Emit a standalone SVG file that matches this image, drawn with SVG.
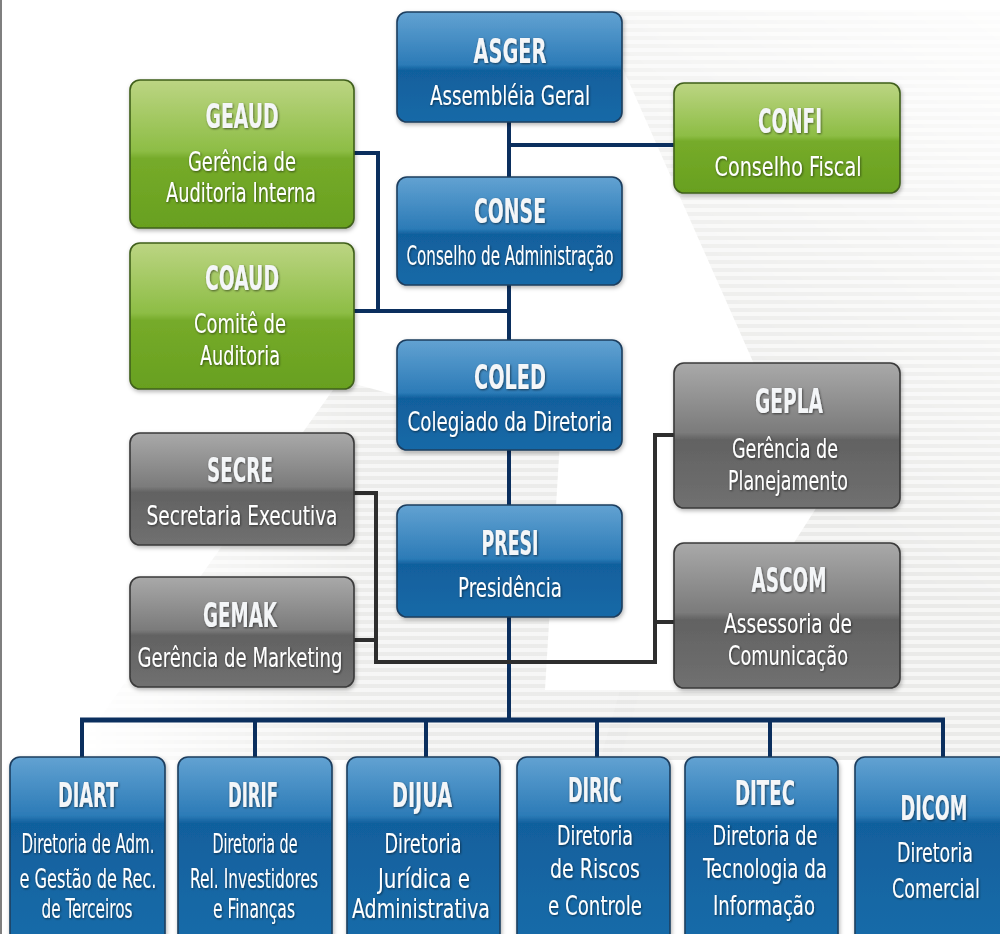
<svg xmlns="http://www.w3.org/2000/svg" width="1000" height="934" viewBox="0 0 1000 934">
<defs>
<pattern id="stripes" patternUnits="userSpaceOnUse" width="8" height="8">
<rect width="8" height="8" fill="#f5f5f4"/>
<rect y="4" width="8" height="4" fill="#e8e8e6"/>
</pattern>
<linearGradient id="fadeR" gradientUnits="userSpaceOnUse" x1="1000" y1="0" x2="700" y2="420">
<stop offset="0" stop-color="#fff" stop-opacity="0.1"/>
<stop offset="1" stop-color="#fff" stop-opacity="0.9"/>
</linearGradient>
<linearGradient id="fadeL" gradientUnits="userSpaceOnUse" x1="80" y1="0" x2="360" y2="0">
<stop offset="0" stop-color="#fff" stop-opacity="0"/>
<stop offset="1" stop-color="#fff" stop-opacity="0.85"/>
</linearGradient>
<mask id="mR"><rect x="580" y="0" width="420" height="934" fill="url(#fadeR)"/></mask>
<mask id="mL"><rect x="0" y="0" width="640" height="934" fill="url(#fadeL)"/></mask>
<linearGradient id="gBlue" x1="0" y1="0" x2="0" y2="1">
<stop offset="0" stop-color="#62a2d2"/>
<stop offset="0.48" stop-color="#2c7bb7"/>
<stop offset="0.53" stop-color="#11609d"/>
<stop offset="1" stop-color="#1769a7"/>
</linearGradient>
<linearGradient id="gBlueTall" x1="0" y1="0" x2="0" y2="1">
<stop offset="0" stop-color="#62a2d2"/>
<stop offset="0.3" stop-color="#2c7bb7"/>
<stop offset="0.34" stop-color="#11609d"/>
<stop offset="1" stop-color="#1a6caa"/>
</linearGradient>
<linearGradient id="gGreen" x1="0" y1="0" x2="0" y2="1">
<stop offset="0" stop-color="#bcd583"/>
<stop offset="0.48" stop-color="#8dbd45"/>
<stop offset="0.53" stop-color="#76ab2a"/>
<stop offset="1" stop-color="#68a01f"/>
</linearGradient>
<linearGradient id="gGrey" x1="0" y1="0" x2="0" y2="1">
<stop offset="0" stop-color="#a9a9a9"/>
<stop offset="0.48" stop-color="#7b7b7b"/>
<stop offset="0.53" stop-color="#626262"/>
<stop offset="1" stop-color="#707070"/>
</linearGradient>
<filter id="sh" x="-10%" y="-10%" width="120%" height="130%">
<feDropShadow dx="1" dy="2" stdDeviation="2" flood-color="#000" flood-opacity="0.3"/>
</filter>
<filter id="ts" x="-10%" y="-20%" width="120%" height="150%">
<feDropShadow dx="0.8" dy="1" stdDeviation="0.8" flood-color="#000" flood-opacity="0.55"/>
</filter>
<style>
.box{stroke-width:1.6}
.blue{fill:url(#gBlue);stroke:#1c3e5e}
.blueT{fill:url(#gBlueTall);stroke:#1c3e5e}
.green{fill:url(#gGreen);stroke:#3f5f1a}
.grey{fill:url(#gGrey);stroke:#3a3a3a}
text{fill:#fff;text-anchor:middle;font-family:"DejaVu Sans Condensed","DejaVu Sans","Liberation Sans",sans-serif}
.t{font-size:33px;font-weight:bold;fill:#f4f6f8}
.s{font-size:26px;font-weight:normal}
.cn{fill:none;stroke:#0b2f5e;stroke-width:4}
.cb{fill:none;stroke:#0b2f5e;stroke-width:5}
.cg{fill:none;stroke:#2e2e2e;stroke-width:4}
</style>
</defs>

<rect width="1000" height="934" fill="#fff"/>
<g id="background">
<polygon points="597,10 1000,10 1000,760 600,760 620,690 700,690 850,455 770,400" fill="url(#stripes)" mask="url(#mR)"/>
<polygon points="340,380 560,440 545,690 640,690 620,760 70,760" fill="url(#stripes)" mask="url(#mL)"/>
<line x1="1" y1="0" x2="1" y2="934" stroke="#555" stroke-width="1.5"/>
</g>

<g id="connectors">
<path class="cn" d="M509 122 V720"/>
<path class="cn" d="M509 145 H674"/>
<path class="cn" d="M354 153 H378 V311"/>
<path class="cn" d="M354 311 H509"/>
<path class="cg" d="M354 493 H376 V662 H655 V435 H674"/>
<path class="cg" d="M354 640 H376"/>
<path class="cg" d="M655 622 H674"/>
<path class="cb" d="M80 720 H945"/>
<path class="cn" d="M82 720 V757 M255 720 V757 M426 720 V757 M597 720 V757 M770 720 V757 M943 720 V757"/>
</g>

<g id="ASGER">
<rect class="box blue" x="397" y="12" width="225" height="110" rx="10" filter="url(#sh)"/>
<g filter="url(#ts)"><text class="t" x="510" y="63" textLength="73" lengthAdjust="spacingAndGlyphs">ASGER</text>
<text class="s" x="510" y="105" textLength="160" lengthAdjust="spacingAndGlyphs">Assembléia Geral</text></g>
</g>
<g id="CONSE">
<rect class="box blue" x="397" y="177" width="225" height="108" rx="10" filter="url(#sh)"/>
<g filter="url(#ts)"><text class="t" x="510" y="223" textLength="72" lengthAdjust="spacingAndGlyphs">CONSE</text>
<text class="s" x="510" y="265" textLength="207" lengthAdjust="spacingAndGlyphs">Conselho de Administração</text></g>
</g>
<g id="COLED">
<rect class="box blue" x="397" y="340" width="225" height="110" rx="10" filter="url(#sh)"/>
<g filter="url(#ts)"><text class="t" x="510" y="389" textLength="72" lengthAdjust="spacingAndGlyphs">COLED</text>
<text class="s" x="510" y="431" textLength="205" lengthAdjust="spacingAndGlyphs">Colegiado da Diretoria</text></g>
</g>
<g id="PRESI">
<rect class="box blue" x="397" y="505" width="225" height="112" rx="10" filter="url(#sh)"/>
<g filter="url(#ts)"><text class="t" x="510" y="555" textLength="57" lengthAdjust="spacingAndGlyphs">PRESI</text>
<text class="s" x="510" y="597" textLength="104" lengthAdjust="spacingAndGlyphs">Presidência</text></g>
</g>

<g id="GEAUD">
<rect class="box green" x="130" y="80" width="224" height="148" rx="10" filter="url(#sh)"/>
<g filter="url(#ts)"><text class="t" x="242" y="128" textLength="73" lengthAdjust="spacingAndGlyphs">GEAUD</text>
<text class="s" x="242" y="171" textLength="108" lengthAdjust="spacingAndGlyphs">Gerência de</text>
<text class="s" x="241" y="202" textLength="150" lengthAdjust="spacingAndGlyphs">Auditoria Interna</text></g>
</g>
<g id="COAUD">
<rect class="box green" x="130" y="243" width="224" height="146" rx="10" filter="url(#sh)"/>
<g filter="url(#ts)"><text class="t" x="242" y="290" textLength="74" lengthAdjust="spacingAndGlyphs">COAUD</text>
<text class="s" x="240" y="333" textLength="92" lengthAdjust="spacingAndGlyphs">Comitê de</text>
<text class="s" x="240" y="365" textLength="80" lengthAdjust="spacingAndGlyphs">Auditoria</text></g>
</g>
<g id="CONFI">
<rect class="box green" x="674" y="83" width="226" height="110" rx="10" filter="url(#sh)"/>
<g filter="url(#ts)"><text class="t" x="790" y="133" textLength="64" lengthAdjust="spacingAndGlyphs">CONFI</text>
<text class="s" x="788" y="176" textLength="147" lengthAdjust="spacingAndGlyphs">Conselho Fiscal</text></g>
</g>

<g id="SECRE">
<rect class="box grey" x="130" y="433" width="224" height="112" rx="10" filter="url(#sh)"/>
<g filter="url(#ts)"><text class="t" x="240" y="482" textLength="66" lengthAdjust="spacingAndGlyphs">SECRE</text>
<text class="s" x="242" y="525" textLength="191" lengthAdjust="spacingAndGlyphs">Secretaria Executiva</text></g>
</g>
<g id="GEMAK">
<rect class="box grey" x="130" y="577" width="224" height="110" rx="10" filter="url(#sh)"/>
<g filter="url(#ts)"><text class="t" x="240" y="627" textLength="74" lengthAdjust="spacingAndGlyphs">GEMAK</text>
<text class="s" x="240" y="667" textLength="205" lengthAdjust="spacingAndGlyphs">Gerência de Marketing</text></g>
</g>
<g id="GEPLA">
<rect class="box grey" x="674" y="363" width="226" height="145" rx="10" filter="url(#sh)"/>
<g filter="url(#ts)"><text class="t" x="789" y="413" textLength="68" lengthAdjust="spacingAndGlyphs">GEPLA</text>
<text class="s" x="785" y="458" textLength="106" lengthAdjust="spacingAndGlyphs">Gerência de</text>
<text class="s" x="788" y="490" textLength="120" lengthAdjust="spacingAndGlyphs">Planejamento</text></g>
</g>
<g id="ASCOM">
<rect class="box grey" x="674" y="543" width="226" height="145" rx="10" filter="url(#sh)"/>
<g filter="url(#ts)"><text class="t" x="789" y="592" textLength="75" lengthAdjust="spacingAndGlyphs">ASCOM</text>
<text class="s" x="788" y="633" textLength="128" lengthAdjust="spacingAndGlyphs">Assessoria de</text>
<text class="s" x="788" y="665" textLength="120" lengthAdjust="spacingAndGlyphs">Comunicação</text></g>
</g>

<g id="DIART">
<rect class="box blueT" x="10" y="757" width="155" height="195" rx="10" filter="url(#sh)"/>
<g filter="url(#ts)"><text class="t" x="88" y="807" textLength="60" lengthAdjust="spacingAndGlyphs">DIART</text>
<text class="s" x="88" y="853" textLength="133" lengthAdjust="spacingAndGlyphs">Diretoria de Adm.</text>
<text class="s" x="88" y="888" textLength="137" lengthAdjust="spacingAndGlyphs">e Gestão de Rec.</text>
<text class="s" x="87" y="918" textLength="91" lengthAdjust="spacingAndGlyphs">de Terceiros</text></g>
</g>
<g id="DIRIF">
<rect class="box blueT" x="178" y="757" width="154" height="195" rx="10" filter="url(#sh)"/>
<g filter="url(#ts)"><text class="t" x="253" y="807" textLength="50" lengthAdjust="spacingAndGlyphs">DIRIF</text>
<text class="s" x="255" y="853" textLength="85" lengthAdjust="spacingAndGlyphs">Diretoria de</text>
<text class="s" x="254" y="888" textLength="128" lengthAdjust="spacingAndGlyphs">Rel. Investidores</text>
<text class="s" x="254" y="918" textLength="82" lengthAdjust="spacingAndGlyphs">e Finanças</text></g>
</g>
<g id="DIJUA">
<rect class="box blueT" x="347" y="757" width="153" height="195" rx="10" filter="url(#sh)"/>
<g filter="url(#ts)"><text class="t" x="422" y="807" textLength="60" lengthAdjust="spacingAndGlyphs">DIJUA</text>
<text class="s" x="423" y="853" textLength="77" lengthAdjust="spacingAndGlyphs">Diretoria</text>
<text class="s" x="424" y="888" textLength="92" lengthAdjust="spacingAndGlyphs">Jurídica e</text>
<text class="s" x="421" y="918" textLength="138" lengthAdjust="spacingAndGlyphs">Administrativa</text></g>
</g>
<g id="DIRIC">
<rect class="box blueT" x="517" y="757" width="153" height="195" rx="10" filter="url(#sh)"/>
<g filter="url(#ts)"><text class="t" x="595" y="802" textLength="54" lengthAdjust="spacingAndGlyphs">DIRIC</text>
<text class="s" x="595" y="845" textLength="76" lengthAdjust="spacingAndGlyphs">Diretoria</text>
<text class="s" x="595" y="878" textLength="90" lengthAdjust="spacingAndGlyphs">de Riscos</text>
<text class="s" x="595" y="915" textLength="94" lengthAdjust="spacingAndGlyphs">e Controle</text></g>
</g>
<g id="DITEC">
<rect class="box blueT" x="685" y="757" width="153" height="195" rx="10" filter="url(#sh)"/>
<g filter="url(#ts)"><text class="t" x="765" y="805" textLength="60" lengthAdjust="spacingAndGlyphs">DITEC</text>
<text class="s" x="765" y="845" textLength="105" lengthAdjust="spacingAndGlyphs">Diretoria de</text>
<text class="s" x="765" y="878" textLength="124" lengthAdjust="spacingAndGlyphs">Tecnologia da</text>
<text class="s" x="764" y="915" textLength="102" lengthAdjust="spacingAndGlyphs">Informação</text></g>
</g>
<g id="DICOM">
<rect class="box blueT" x="855" y="757" width="160" height="195" rx="10" filter="url(#sh)"/>
<g filter="url(#ts)"><text class="t" x="934" y="820" textLength="67" lengthAdjust="spacingAndGlyphs">DICOM</text>
<text class="s" x="935" y="862" textLength="76" lengthAdjust="spacingAndGlyphs">Diretoria</text>
<text class="s" x="936" y="898" textLength="88" lengthAdjust="spacingAndGlyphs">Comercial</text></g>
</g>
</svg>
